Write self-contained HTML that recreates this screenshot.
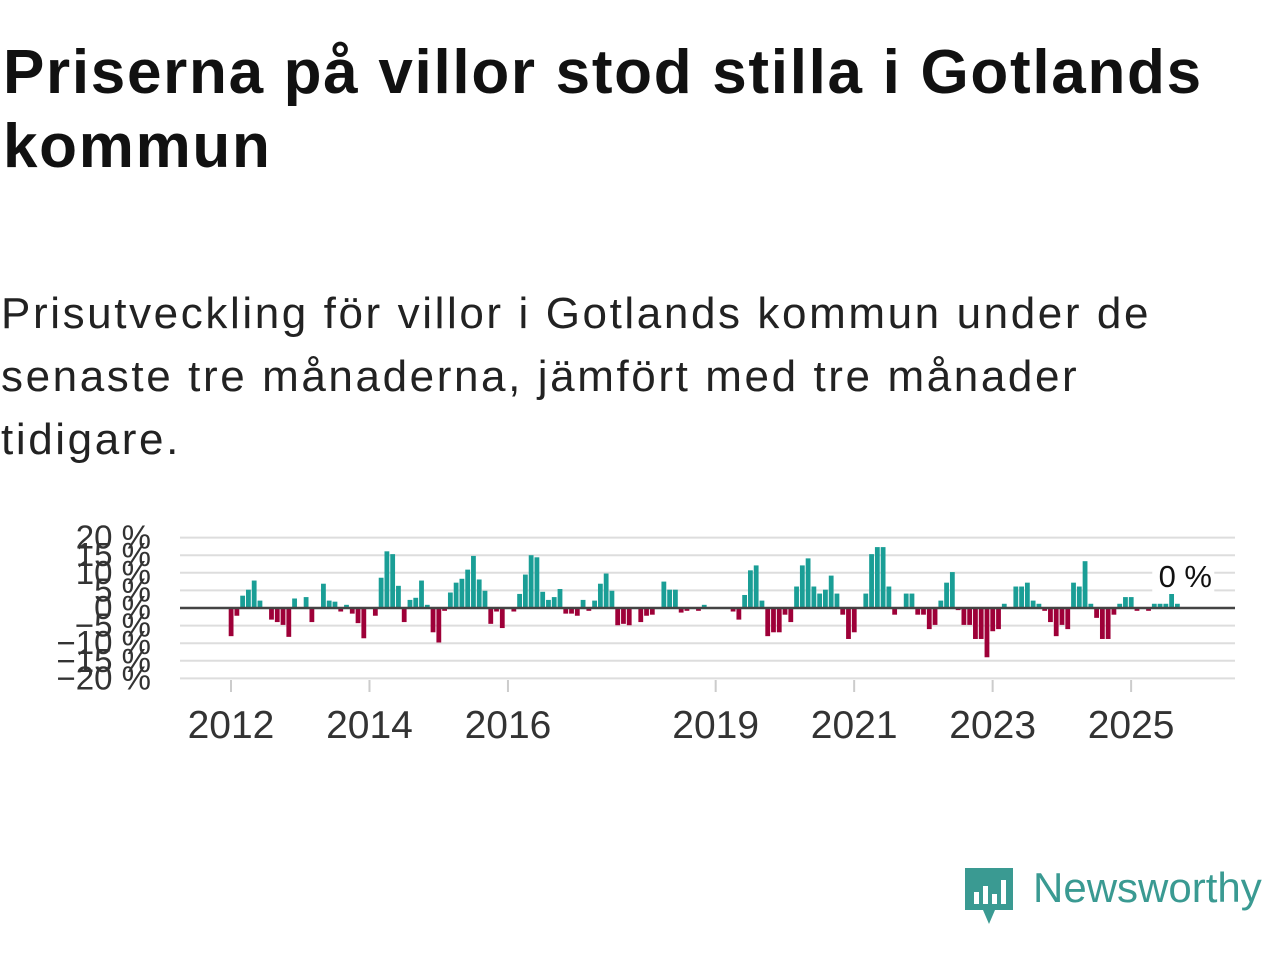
<!DOCTYPE html>
<html><head><meta charset="utf-8">
<style>
body{margin:0;width:1280px;height:960px;background:#fff;font-family:"Liberation Sans",sans-serif;overflow:hidden;position:relative}
h1{position:absolute;left:3px;top:36px;margin:0;font-size:62px;letter-spacing:1.7px;line-height:74px;font-weight:bold;color:#111;width:1275px;white-space:nowrap}
p{position:absolute;left:1px;top:282px;margin:0;font-size:44px;letter-spacing:2.6px;line-height:63px;color:#222;width:1275px;white-space:nowrap}
svg text{font-family:"Liberation Sans",sans-serif}
</style></head><body>
<h1>Priserna på villor stod stilla i Gotlands<br>kommun</h1>
<p>Prisutveckling för villor i Gotlands kommun under de<br>senaste tre månaderna, jämfört med tre månader<br>tidigare.</p>
<svg id="chart" width="1280" height="960" style="position:absolute;left:0;top:0"></svg>
<div style="position:absolute;left:965px;top:866px;width:315px;height:60px">
<svg width="50" height="60" style="position:absolute;left:0;top:0"><path d="M0 2 H48 V44 H30 L24 58 L18 44 H0 Z" fill="#3a9a92"/><rect x="9" y="26" width="5" height="12" fill="#fff"/><rect x="18" y="20" width="5" height="18" fill="#fff"/><rect x="27" y="28" width="5" height="10" fill="#fff"/><rect x="36" y="14" width="5" height="24" fill="#fff"/></svg>
<span style="position:absolute;left:68px;top:-2px;font-size:42px;color:#3a9a92;font-family:'Liberation Sans',sans-serif">Newsworthy</span>
</div>
<script>
const values=[-8.0,-2.2,3.5,5.2,7.8,2.1,0,-3.3,-4.0,-4.8,-8.2,2.7,0,3.1,-4.0,0,6.9,2.1,1.8,-1.0,0.9,-1.6,-4.3,-8.6,0,-2.2,8.6,16.1,15.3,6.3,-4.0,2.3,2.9,7.8,0.9,-6.9,-9.8,-0.8,4.4,7.2,8.3,10.9,14.8,8.1,4.9,-4.5,-1.0,-5.7,0,-1.0,4.0,9.5,15.0,14.4,4.6,2.3,3.1,5.4,-1.6,-1.6,-2.2,2.3,-0.8,2.1,6.9,9.8,4.9,-4.9,-4.5,-4.9,0,-4.0,-2.2,-1.9,0,7.5,5.2,5.2,-1.3,-0.8,0,-0.8,0.9,0,0,0,0,-1.0,-3.3,3.7,10.7,12.1,2.1,-8.0,-6.9,-6.9,-1.9,-4.0,6.1,12.1,14.1,6.1,4.1,5.2,9.2,4.1,-1.9,-8.8,-6.9,0,4.1,15.3,17.3,17.3,6.1,-1.9,0,4.1,4.1,-1.9,-1.9,-6.0,-4.8,2.1,7.2,10.2,-0.6,-4.8,-4.8,-8.8,-8.8,-14.0,-6.6,-6.0,1.2,0,6.1,6.1,7.2,2.1,1.2,-0.8,-4.0,-8.0,-4.8,-6.0,7.2,6.1,13.3,1.2,-2.8,-8.8,-8.8,-1.9,1.2,3.1,3.1,-0.8,0,-0.8,1.2,1.2,1.2,4.6,1.2];
const yTicks=[20,15,10,5,0,-5,-10,-15,-20];
const yLabels=["20 %","15 %","10 %","5 %","0 %","−5 %","−10 %","−15 %","−20 %"];
const xTickMonths=[0,24,48,84,108,132,156];
const xTickLabels=["2012","2014","2016","2019","2021","2023","2025"];
const lastLabel="0 %";
const svg=document.getElementById('chart');
const NS='http://www.w3.org/2000/svg';
function x(i){return 231+i*5.77;}
function y(v){return 608-v*3.52;}
function mk(t,a){const e=document.createElementNS(NS,t);for(const k in a)e.setAttribute(k,a[k]);svg.appendChild(e);return e;}
yTicks.forEach((v,k)=>{
  const g=mk('line',{x1:180,x2:1235,y1:y(v),y2:y(v),stroke:'#ddd','stroke-width':2});
  
  
  const t=mk('text',{x:151,y:y(v)+11,'text-anchor':'end','font-size':33,fill:'#333'});
  t.textContent=yLabels[k];
  
  
});
values.forEach((v,i)=>{
  const r=mk('rect',{x:x(i)-2.3,width:4.8,y:Math.min(y(v),y(0)),height:Math.abs(y(v)-y(0)),fill:v>=0?'#1a9e96':'#9e0038'});
  
  
});
const z=mk('line',{x1:180,x2:1235,y1:y(0),y2:y(0),stroke:'#444','stroke-width':2.5});


xTickMonths.forEach((m,k)=>{
  const l=mk('line',{x1:x(m),x2:x(m),y1:680,y2:692,stroke:'#ccc','stroke-width':2});
  
  
  const t=mk('text',{x:x(m),y:738,'text-anchor':'middle','font-size':39,fill:'#333'});
  t.textContent=xTickLabels[k];
  
  
});
const li=values.length-1;
const bg=mk('rect',{x:x(li)-25,y:560,width:62,height:34,fill:'#fff'});


const lt=mk('text',{x:x(li)+8,y:587,'text-anchor':'middle','font-size':31,fill:'#111'});
lt.textContent=lastLabel;


</script>
</body></html>
